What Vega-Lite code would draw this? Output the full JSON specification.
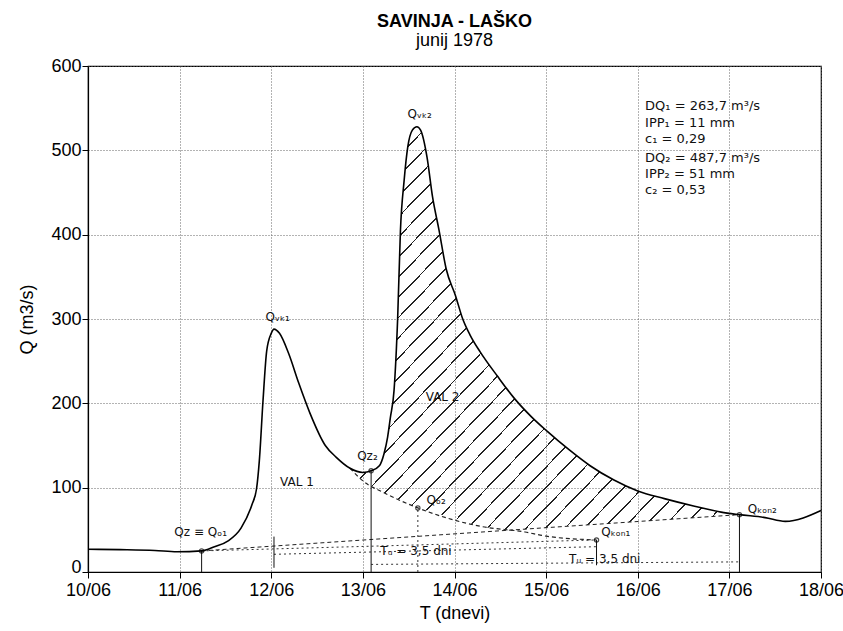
{
  "$schema": "https://vega.github.io/schema/vega-lite/v6.json",
  "width": 733,
  "height": 506,
  "autosize": {"type": "none"},
  "padding": {"left": 88, "top": 66, "right": 22, "bottom": 59},
  "background": "white",
  "title": {
    "text": "SAVINJA - LAŠKO",
    "subtitle": "junij 1978",
    "font": "Liberation Sans",
    "fontSize": 18,
    "fontWeight": "bold",
    "color": "black",
    "subtitleFont": "Liberation Sans",
    "subtitleFontSize": 18,
    "subtitleColor": "black",
    "subtitlePadding": 1,
    "anchor": "middle",
    "offset": 7
  },
  "config": {
    "view": {"stroke": "black", "strokeWidth": 1.2},
    "axis": {
      "labelFont": "Liberation Sans",
      "labelFontSize": 18,
      "labelColor": "black",
      "titleFont": "Liberation Sans",
      "titleFontSize": 18,
      "titleFontWeight": "normal",
      "titleColor": "black",
      "domainColor": "black",
      "domainWidth": 1.2,
      "tickColor": "black",
      "tickSize": 6,
      "grid": true,
      "gridColor": "#666666",
      "gridDash": [1, 2],
      "gridWidth": 1,
      "labelFlush": false
    }
  },
  "datasets": {
    "hydro": [
      {"day": 10.0, "q": 27}, {"day": 10.35, "q": 26.5}, {"day": 10.73, "q": 25.5}, {"day": 10.97, "q": 24},
      {"day": 11.24, "q": 25}, {"day": 11.38, "q": 30}, {"day": 11.53, "q": 37}, {"day": 11.67, "q": 52},
      {"day": 11.79, "q": 80}, {"day": 11.84, "q": 99}, {"day": 11.87, "q": 132}, {"day": 11.91, "q": 203},
      {"day": 11.95, "q": 262}, {"day": 12.0, "q": 283}, {"day": 12.03, "q": 288}, {"day": 12.09, "q": 283},
      {"day": 12.19, "q": 259}, {"day": 12.3, "q": 224}, {"day": 12.42, "q": 189}, {"day": 12.59, "q": 150},
      {"day": 12.71, "q": 136}, {"day": 12.86, "q": 123}, {"day": 13.0, "q": 118}, {"day": 13.09, "q": 120},
      {"day": 13.18, "q": 126}, {"day": 13.23, "q": 140}, {"day": 13.27, "q": 160}, {"day": 13.3, "q": 183},
      {"day": 13.34, "q": 215}, {"day": 13.38, "q": 302}, {"day": 13.41, "q": 405}, {"day": 13.45, "q": 464},
      {"day": 13.49, "q": 504}, {"day": 13.54, "q": 524}, {"day": 13.59, "q": 528}, {"day": 13.63, "q": 524},
      {"day": 13.7, "q": 492}, {"day": 13.76, "q": 445}, {"day": 13.83, "q": 406}, {"day": 13.91, "q": 359},
      {"day": 14.01, "q": 328}, {"day": 14.09, "q": 300}, {"day": 14.17, "q": 281}, {"day": 14.28, "q": 261},
      {"day": 14.47, "q": 232}, {"day": 14.66, "q": 205}, {"day": 14.84, "q": 184}, {"day": 15.01, "q": 167},
      {"day": 15.25, "q": 145}, {"day": 15.48, "q": 126}, {"day": 15.74, "q": 109}, {"day": 16.0, "q": 96},
      {"day": 16.29, "q": 87}, {"day": 16.62, "q": 78}, {"day": 16.91, "q": 71}, {"day": 17.11, "q": 68},
      {"day": 17.39, "q": 64.5}, {"day": 17.61, "q": 60}, {"day": 18.0, "q": 73}
    ],
    "hatch": [
      {"day": 12.86, "q": 123, "base": 123}, {"day": 13.0, "q": 118, "base": 108}, {"day": 13.09, "q": 120, "base": 102.5},
      {"day": 13.18, "q": 126, "base": 97}, {"day": 13.23, "q": 140, "base": 94}, {"day": 13.27, "q": 160, "base": 92},
      {"day": 13.3, "q": 183, "base": 90.6}, {"day": 13.34, "q": 215, "base": 88.6}, {"day": 13.38, "q": 302, "base": 86.6},
      {"day": 13.41, "q": 405, "base": 85.2}, {"day": 13.45, "q": 464, "base": 83.2}, {"day": 13.49, "q": 504, "base": 81.4},
      {"day": 13.54, "q": 524, "base": 78.9}, {"day": 13.59, "q": 528, "base": 76.5}, {"day": 13.63, "q": 524, "base": 75},
      {"day": 13.7, "q": 492, "base": 72.8}, {"day": 13.76, "q": 445, "base": 70.9}, {"day": 13.83, "q": 406, "base": 68.7},
      {"day": 13.91, "q": 359, "base": 66.1}, {"day": 14.01, "q": 328, "base": 62.9}, {"day": 14.09, "q": 300, "base": 60.4},
      {"day": 14.17, "q": 281, "base": 57.8}, {"day": 14.28, "q": 261, "base": 54.3}, {"day": 14.47, "q": 232, "base": 51.5},
      {"day": 14.66, "q": 205, "base": 50}, {"day": 14.84, "q": 184, "base": 51.4}, {"day": 15.01, "q": 167, "base": 52.6},
      {"day": 15.25, "q": 145, "base": 54.4}, {"day": 15.48, "q": 126, "base": 56.1}, {"day": 15.74, "q": 109, "base": 58},
      {"day": 16.0, "q": 96, "base": 59.9}, {"day": 16.29, "q": 87, "base": 62}, {"day": 16.62, "q": 78, "base": 64.4},
      {"day": 16.91, "q": 71, "base": 66.5}, {"day": 17.11, "q": 68, "base": 68}
    ],
    "recession": [
      {"day": 12.86, "q": 123}, {"day": 13.0, "q": 108}, {"day": 13.23, "q": 94}, {"day": 13.6, "q": 76},
      {"day": 14.29, "q": 54}, {"day": 14.77, "q": 47.4}, {"day": 15.0, "q": 42.5}, {"day": 15.55, "q": 38}
    ],
    "dashseg": [
      {"day": 11.24, "q": 25, "day2": 17.11, "q2": 68}
    ],
    "dotseg": [
      {"day": 11.24, "q": 25, "day2": 15.55, "q2": 38},
      {"day": 12.03, "q": 21, "day2": 15.55, "q2": 30},
      {"day": 13.09, "q": 9, "day2": 17.11, "q2": 12}
    ],
    "vsolid": [
      {"day": 11.24, "q": 0, "q2": 25},
      {"day": 13.09, "q": 0, "q2": 120},
      {"day": 15.55, "q": 8, "q2": 38},
      {"day": 17.11, "q": 0, "q2": 68},
      {"day": 12.03, "q": 5, "q2": 42}
    ],
    "vdot": [
      {"day": 13.6, "q": 0, "q2": 76}
    ],
    "pts": [
      {"day": 11.24, "q": 25}, {"day": 13.09, "q": 120}, {"day": 13.6, "q": 76},
      {"day": 15.55, "q": 38}, {"day": 17.11, "q": 68}
    ],
    "labels": [
      {"day": 12.07, "q": 302, "text": "Qᵥₖ₁"},
      {"day": 13.62, "q": 543, "text": "Qᵥₖ₂"},
      {"day": 13.05, "q": 138, "text": "Qz₂"},
      {"day": 13.8, "q": 85, "text": "Qₒ₂"},
      {"day": 15.76, "q": 47, "text": "Qₖₒₙ₁"},
      {"day": 17.36, "q": 75, "text": "Qₖₒₙ₂"},
      {"day": 11.23, "q": 48, "text": "Qz ≡ Qₒ₁"},
      {"day": 12.28, "q": 107, "text": "VAL 1"},
      {"day": 13.87, "q": 208, "text": "VAL 2"},
      {"day": 13.58, "q": 25, "text": "Tᵤ = 3,5 dni"},
      {"day": 15.64, "q": 15, "text": "Tᵤ = 3,5 dni"}
    ],
    "dq": [
      {"day": 16.08, "q": 552, "text": "DQ₁ = 263,7 m³/s"},
      {"day": 16.08, "q": 533, "text": "IPP₁ = 11 mm"},
      {"day": 16.08, "q": 514, "text": "c₁ = 0,29"},
      {"day": 16.08, "q": 491, "text": "DQ₂ = 487,7 m³/s"},
      {"day": 16.08, "q": 472, "text": "IPP₂ = 51 mm"},
      {"day": 16.08, "q": 453, "text": "c₂ = 0,53"}
    ]
  },
  "encoding": {
    "x": {
      "field": "day",
      "type": "quantitative",
      "scale": {"domain": [10, 18], "nice": false},
      "axis": {
        "title": "T (dnevi)",
        "values": [10, 11, 12, 13, 14, 15, 16, 17, 18],
        "labelExpr": "datum.value + '/06'",
        "labelPadding": 3,
        "titlePadding": 5
      }
    },
    "y": {
      "field": "q",
      "type": "quantitative",
      "scale": {"domain": [0, 600], "nice": false},
      "axis": {
        "title": "Q (m3/s)",
        "values": [0, 100, 200, 300, 400, 500, 600],
        "labelPadding": 1,
        "labelBaseline": {"condition": {"test": "datum.value == 0", "value": "alphabetic"}, "value": "middle"},
        "titlePadding": 14
      }
    }
  },
  "layer": [
    {
      "data": {"name": "hatch"},
      "mark": {
        "type": "area",
        "interpolate": "monotone",
        "fill": {
          "gradient": "linear",
          "x1": 0, "y1": 0, "x2": 1, "y2": 1,
          "stops": [
            {"offset": 0, "color": "rgba(0,0,0,0)"}, {"offset": 0.0227, "color": "rgba(0,0,0,0)"}, {"offset": 0.0227, "color": "#222"}, {"offset": 0.025, "color": "#222"},
            {"offset": 0.025, "color": "rgba(0,0,0,0)"}, {"offset": 0.0477, "color": "rgba(0,0,0,0)"}, {"offset": 0.0477, "color": "#222"}, {"offset": 0.05, "color": "#222"},
            {"offset": 0.05, "color": "rgba(0,0,0,0)"}, {"offset": 0.0727, "color": "rgba(0,0,0,0)"}, {"offset": 0.0727, "color": "#222"}, {"offset": 0.075, "color": "#222"},
            {"offset": 0.075, "color": "rgba(0,0,0,0)"}, {"offset": 0.0977, "color": "rgba(0,0,0,0)"}, {"offset": 0.0977, "color": "#222"}, {"offset": 0.1, "color": "#222"},
            {"offset": 0.1, "color": "rgba(0,0,0,0)"}, {"offset": 0.1227, "color": "rgba(0,0,0,0)"}, {"offset": 0.1227, "color": "#222"}, {"offset": 0.125, "color": "#222"},
            {"offset": 0.125, "color": "rgba(0,0,0,0)"}, {"offset": 0.1477, "color": "rgba(0,0,0,0)"}, {"offset": 0.1477, "color": "#222"}, {"offset": 0.15, "color": "#222"},
            {"offset": 0.15, "color": "rgba(0,0,0,0)"}, {"offset": 0.1727, "color": "rgba(0,0,0,0)"}, {"offset": 0.1727, "color": "#222"}, {"offset": 0.175, "color": "#222"},
            {"offset": 0.175, "color": "rgba(0,0,0,0)"}, {"offset": 0.1977, "color": "rgba(0,0,0,0)"}, {"offset": 0.1977, "color": "#222"}, {"offset": 0.2, "color": "#222"},
            {"offset": 0.2, "color": "rgba(0,0,0,0)"}, {"offset": 0.2227, "color": "rgba(0,0,0,0)"}, {"offset": 0.2227, "color": "#222"}, {"offset": 0.225, "color": "#222"},
            {"offset": 0.225, "color": "rgba(0,0,0,0)"}, {"offset": 0.2477, "color": "rgba(0,0,0,0)"}, {"offset": 0.2477, "color": "#222"}, {"offset": 0.25, "color": "#222"},
            {"offset": 0.25, "color": "rgba(0,0,0,0)"}, {"offset": 0.2727, "color": "rgba(0,0,0,0)"}, {"offset": 0.2727, "color": "#222"}, {"offset": 0.275, "color": "#222"},
            {"offset": 0.275, "color": "rgba(0,0,0,0)"}, {"offset": 0.2977, "color": "rgba(0,0,0,0)"}, {"offset": 0.2977, "color": "#222"}, {"offset": 0.3, "color": "#222"},
            {"offset": 0.3, "color": "rgba(0,0,0,0)"}, {"offset": 0.3227, "color": "rgba(0,0,0,0)"}, {"offset": 0.3227, "color": "#222"}, {"offset": 0.325, "color": "#222"},
            {"offset": 0.325, "color": "rgba(0,0,0,0)"}, {"offset": 0.3477, "color": "rgba(0,0,0,0)"}, {"offset": 0.3477, "color": "#222"}, {"offset": 0.35, "color": "#222"},
            {"offset": 0.35, "color": "rgba(0,0,0,0)"}, {"offset": 0.3727, "color": "rgba(0,0,0,0)"}, {"offset": 0.3727, "color": "#222"}, {"offset": 0.375, "color": "#222"},
            {"offset": 0.375, "color": "rgba(0,0,0,0)"}, {"offset": 0.3977, "color": "rgba(0,0,0,0)"}, {"offset": 0.3977, "color": "#222"}, {"offset": 0.4, "color": "#222"},
            {"offset": 0.4, "color": "rgba(0,0,0,0)"}, {"offset": 0.4227, "color": "rgba(0,0,0,0)"}, {"offset": 0.4227, "color": "#222"}, {"offset": 0.425, "color": "#222"},
            {"offset": 0.425, "color": "rgba(0,0,0,0)"}, {"offset": 0.4477, "color": "rgba(0,0,0,0)"}, {"offset": 0.4477, "color": "#222"}, {"offset": 0.45, "color": "#222"},
            {"offset": 0.45, "color": "rgba(0,0,0,0)"}, {"offset": 0.4727, "color": "rgba(0,0,0,0)"}, {"offset": 0.4727, "color": "#222"}, {"offset": 0.475, "color": "#222"},
            {"offset": 0.475, "color": "rgba(0,0,0,0)"}, {"offset": 0.4977, "color": "rgba(0,0,0,0)"}, {"offset": 0.4977, "color": "#222"}, {"offset": 0.5, "color": "#222"},
            {"offset": 0.5, "color": "rgba(0,0,0,0)"}, {"offset": 0.5227, "color": "rgba(0,0,0,0)"}, {"offset": 0.5227, "color": "#222"}, {"offset": 0.525, "color": "#222"},
            {"offset": 0.525, "color": "rgba(0,0,0,0)"}, {"offset": 0.5477, "color": "rgba(0,0,0,0)"}, {"offset": 0.5477, "color": "#222"}, {"offset": 0.55, "color": "#222"},
            {"offset": 0.55, "color": "rgba(0,0,0,0)"}, {"offset": 0.5727, "color": "rgba(0,0,0,0)"}, {"offset": 0.5727, "color": "#222"}, {"offset": 0.575, "color": "#222"},
            {"offset": 0.575, "color": "rgba(0,0,0,0)"}, {"offset": 0.5977, "color": "rgba(0,0,0,0)"}, {"offset": 0.5977, "color": "#222"}, {"offset": 0.6, "color": "#222"},
            {"offset": 0.6, "color": "rgba(0,0,0,0)"}, {"offset": 0.6227, "color": "rgba(0,0,0,0)"}, {"offset": 0.6227, "color": "#222"}, {"offset": 0.625, "color": "#222"},
            {"offset": 0.625, "color": "rgba(0,0,0,0)"}, {"offset": 0.6477, "color": "rgba(0,0,0,0)"}, {"offset": 0.6477, "color": "#222"}, {"offset": 0.65, "color": "#222"},
            {"offset": 0.65, "color": "rgba(0,0,0,0)"}, {"offset": 0.6727, "color": "rgba(0,0,0,0)"}, {"offset": 0.6727, "color": "#222"}, {"offset": 0.675, "color": "#222"},
            {"offset": 0.675, "color": "rgba(0,0,0,0)"}, {"offset": 0.6977, "color": "rgba(0,0,0,0)"}, {"offset": 0.6977, "color": "#222"}, {"offset": 0.7, "color": "#222"},
            {"offset": 0.7, "color": "rgba(0,0,0,0)"}, {"offset": 0.7227, "color": "rgba(0,0,0,0)"}, {"offset": 0.7227, "color": "#222"}, {"offset": 0.725, "color": "#222"},
            {"offset": 0.725, "color": "rgba(0,0,0,0)"}, {"offset": 0.7477, "color": "rgba(0,0,0,0)"}, {"offset": 0.7477, "color": "#222"}, {"offset": 0.75, "color": "#222"},
            {"offset": 0.75, "color": "rgba(0,0,0,0)"}, {"offset": 0.7727, "color": "rgba(0,0,0,0)"}, {"offset": 0.7727, "color": "#222"}, {"offset": 0.775, "color": "#222"},
            {"offset": 0.775, "color": "rgba(0,0,0,0)"}, {"offset": 0.7977, "color": "rgba(0,0,0,0)"}, {"offset": 0.7977, "color": "#222"}, {"offset": 0.8, "color": "#222"},
            {"offset": 0.8, "color": "rgba(0,0,0,0)"}, {"offset": 0.8227, "color": "rgba(0,0,0,0)"}, {"offset": 0.8227, "color": "#222"}, {"offset": 0.825, "color": "#222"},
            {"offset": 0.825, "color": "rgba(0,0,0,0)"}, {"offset": 0.8477, "color": "rgba(0,0,0,0)"}, {"offset": 0.8477, "color": "#222"}, {"offset": 0.85, "color": "#222"},
            {"offset": 0.85, "color": "rgba(0,0,0,0)"}, {"offset": 0.8727, "color": "rgba(0,0,0,0)"}, {"offset": 0.8727, "color": "#222"}, {"offset": 0.875, "color": "#222"},
            {"offset": 0.875, "color": "rgba(0,0,0,0)"}, {"offset": 0.8977, "color": "rgba(0,0,0,0)"}, {"offset": 0.8977, "color": "#222"}, {"offset": 0.9, "color": "#222"},
            {"offset": 0.9, "color": "rgba(0,0,0,0)"}, {"offset": 0.9227, "color": "rgba(0,0,0,0)"}, {"offset": 0.9227, "color": "#222"}, {"offset": 0.925, "color": "#222"},
            {"offset": 0.925, "color": "rgba(0,0,0,0)"}, {"offset": 0.9477, "color": "rgba(0,0,0,0)"}, {"offset": 0.9477, "color": "#222"}, {"offset": 0.95, "color": "#222"},
            {"offset": 0.95, "color": "rgba(0,0,0,0)"}, {"offset": 0.9727, "color": "rgba(0,0,0,0)"}, {"offset": 0.9727, "color": "#222"}, {"offset": 0.975, "color": "#222"},
            {"offset": 0.975, "color": "rgba(0,0,0,0)"}, {"offset": 0.9977, "color": "rgba(0,0,0,0)"}, {"offset": 0.9977, "color": "#222"}, {"offset": 1, "color": "#222"}
          ]
        }
      },
      "encoding": {
        "y2": {"field": "base"}
      }
    },
    {
      "data": {"name": "dashseg"},
      "mark": {"type": "rule", "color": "#222", "strokeWidth": 1, "strokeDash": [4, 3]},
      "encoding": {"x2": {"field": "day2"}, "y2": {"field": "q2"}}
    },
    {
      "data": {"name": "dotseg"},
      "mark": {"type": "rule", "color": "#333", "strokeWidth": 1, "strokeDash": [2, 3]},
      "encoding": {"x2": {"field": "day2"}, "y2": {"field": "q2"}}
    },
    {
      "data": {"name": "recession"},
      "mark": {"type": "line", "color": "#222", "strokeWidth": 1.2, "strokeDash": [4, 3], "interpolate": "monotone"},
      "encoding": {}
    },
    {
      "data": {"name": "vsolid"},
      "mark": {"type": "rule", "color": "#111", "strokeWidth": 1},
      "encoding": {"y2": {"field": "q2"}}
    },
    {
      "data": {"name": "vdot"},
      "mark": {"type": "rule", "color": "#333", "strokeWidth": 1, "strokeDash": [2, 3]},
      "encoding": {"y2": {"field": "q2"}}
    },
    {
      "data": {"name": "hydro"},
      "mark": {"type": "line", "color": "black", "strokeWidth": 1.6, "interpolate": "monotone"},
      "encoding": {}
    },
    {
      "data": {"name": "pts"},
      "mark": {"type": "point", "shape": "circle", "size": 18, "filled": false, "color": "black", "strokeWidth": 1.2}
    },
    {
      "data": {"name": "labels"},
      "mark": {"type": "text", "font": "DejaVu Sans", "fontSize": 12, "color": "#111", "align": "center", "baseline": "middle"},
      "encoding": {"text": {"field": "text"}}
    },
    {
      "data": {"name": "dq"},
      "mark": {"type": "text", "font": "DejaVu Sans", "fontSize": 13, "color": "#111", "align": "left", "baseline": "middle"},
      "encoding": {"text": {"field": "text"}}
    }
  ]
}
